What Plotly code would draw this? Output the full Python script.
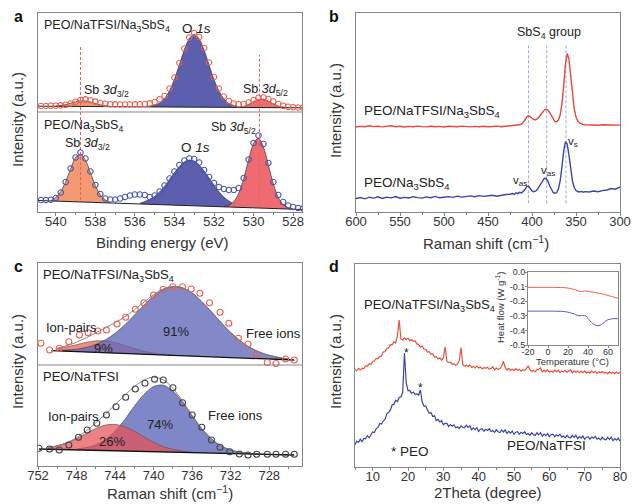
import numpy as np
import plotly.graph_objects as go

W, H = 633, 504
FONT = "Liberation Sans, Arial, sans-serif"
FRAME = "#858585"


def fx(p):
    return p / W


def fy(p):
    return 1 - p / H


# ---------------- panel a : XPS O1s / Sb3d ----------------
a_E = np.round(np.arange(540.75, 527.49, -0.25), 2)
a_top = [106.0, 106.0, 106.2, 106.3, 106.6, 107.2, 108.5, 110.3, 112.0, 112.6,
         111.8, 110.4, 109.0, 108.2, 107.8, 107.6, 107.5, 107.5, 107.5, 107.6,
         107.7, 108.0, 108.6, 110.0, 112.8, 116.0, 123.5, 134.5, 149.0, 163.5,
         174.5, 179.0, 175.0, 164.0, 149.5, 135.0, 123.5, 115.5, 111.0, 108.5,
         107.8, 108.0, 109.5, 112.0, 114.2, 114.5, 113.0, 110.5, 108.0, 106.2,
         105.2, 104.8, 104.5, 104.3]
a_bot = [12.0, 12.0, 12.3, 14.0, 19.5, 30.0, 43.5, 54.5, 59.5, 53.5,
         40.5, 27.0, 18.0, 13.5, 12.5, 12.5, 13.5, 15.0, 16.5, 17.5,
         17.5, 17.0, 15.0, 16.5, 20.5, 26.5, 33.5, 40.5, 47.0, 51.5,
         53.5, 53.0, 49.5, 42.0, 35.0, 29.0, 25.0, 23.0, 22.0, 22.0,
         24.0, 34.0, 52.5, 69.0, 76.5, 68.0, 49.0, 30.0, 17.0, 10.0,
         6.5, 5.0, 4.0, 3.5]
a_base_E = [540.9, 527.55]
a_top_base = [105.8, 104.2]
a_bot_base = [11.5, 2.5]

# fitted components (x grid, y values, baseline at the two ends)
a_t_sb32_E = np.round(np.arange(540.0, 537.24, -0.25), 2)
a_t_sb32 = [106.0, 106.5, 107.4, 108.8, 110.3, 111.2, 111.1, 110.0, 108.5, 107.2, 106.4, 105.6]
a_t_sb32_b = [105.69, 105.36]
a_t_o1s_E = np.round(np.arange(535.25, 530.74, -0.25), 2)
a_t_o1s = [105.5, 106.7, 109.0, 113.5, 121.3, 132.8, 147.3, 162.2, 173.4, 177.6,
           173.1, 161.9, 147.0, 132.5, 121.0, 113.2, 108.7, 106.4, 104.9]
a_t_o1s_b = [105.12, 104.58]
a_t_sb52_E = np.round(np.arange(530.75, 528.24, -0.25), 2)
a_t_sb52 = [104.7, 105.7, 107.6, 110.3, 112.6, 112.9, 110.9, 108.1, 106.0, 105.0, 104.4]
a_t_sb52_b = [104.58, 104.28]

a_b_sb32_E = np.round(np.arange(540.25, 537.24, -0.25), 2)
a_b_sb32 = [11.3, 14.6, 20.3, 30.3, 43.3, 54.4, 58.0, 51.8, 39.4, 26.4, 17.2, 12.1, 9.3]
a_b_sb32_b = [11.06, 9.04]
a_b_o1s_E = np.round(np.arange(535.75, 530.49, -0.25), 2)
a_b_o1s = [8.6, 10.6, 12.6, 15.7, 20.1, 25.8, 32.5, 39.4, 45.6, 50.1, 52.0,
           50.9, 47.0, 41.0, 34.0, 26.8, 20.3, 15.0, 11.1, 8.3, 6.5, 4.9]
a_b_o1s_b = [8.03, 4.49]
a_b_sb52_E = np.round(np.arange(531.5, 527.99, -0.25), 2)
a_b_sb52 = [5.3, 6.7, 10.3, 18.6, 33.3, 52.3, 68.6, 73.9, 65.0, 46.9, 28.1, 14.6, 7.3, 4.3, 2.9]
a_b_sb52_b = [5.16, 2.80]

a_dash_E = [538.75, 529.7]
a_dash_lo = [12, 5.3]
a_dash_hi = [165.3, 157]

# ---------------- panel b : Raman ----------------
b_w = list(range(600, 424, -5)) + list(range(422, 339, -2)) + list(range(335, 299, -5))
b_red = [85.0, 85.6, 85.2, 86.3, 85.4, 85.8, 85.1, 85.9, 86.2, 85.3,
         85.7, 85.0, 85.6, 85.2, 85.9, 85.4, 85.1, 85.8, 85.3, 85.6,
         85.0, 85.7, 85.4, 85.2, 85.9, 85.5, 85.1, 85.6, 85.3, 85.8,
         85.2, 85.5, 85.9, 85.3, 85.7, 85.8,
         86.0, 86.2, 86.5, 86.8, 87.3, 88.2, 89.5, 92.0, 95.0, 96.2,
         95.5, 93.8, 92.5, 92.2, 93.0, 95.0, 97.5, 100.0, 102.0, 102.8,
         102.0, 99.5, 96.0, 92.5, 90.5, 90.2, 92.0, 97.0, 108.0, 126.0,
         148.0, 158.5, 153.0, 136.0, 117.0, 103.0, 95.0, 91.0, 89.0, 88.0,
         87.5, 87.3,
         87.0, 87.4, 86.8, 87.2, 87.0, 86.7, 87.1, 86.9]
b_blue = [13.5, 14.5, 13.2, 14.8, 13.9, 15.2, 13.6, 14.9, 14.1, 15.5,
          13.8, 14.6, 14.0, 15.3, 14.4, 13.9, 15.1, 14.3, 15.6, 14.2,
          14.8, 15.4, 14.6, 15.9, 14.9, 15.3, 16.1, 15.2, 16.4, 15.6,
          15.9, 16.8, 15.8, 16.9, 17.5, 17.8,
          18.5, 17.6, 19.2, 18.4, 19.6, 19.0, 20.5, 22.5, 25.5, 26.0,
          23.5, 21.0, 20.3, 20.8, 22.5, 25.5, 29.0, 32.0, 33.8, 33.5,
          31.0, 26.5, 22.0, 19.5, 18.7, 19.5, 23.0, 31.0, 45.0, 61.0,
          70.0, 68.0, 57.0, 42.0, 31.0, 24.5, 21.5, 20.5, 20.0, 20.6,
          19.8, 20.4,
          20.0, 21.0, 20.3, 21.4, 22.0, 23.5, 22.8, 25.0]
b_dash_w = [404, 383.3, 361.4]

# ---------------- panel c : Raman TFSI band ----------------
c_top_w = [751.7, 750.8, 749.8, 748.8, 747.7, 746.8, 745.8, 744.9, 743.8, 742.9,
           741.9, 741.0, 740.0, 739.0, 738.0, 737.0, 736.1, 735.2, 734.2, 733.1,
           732.2, 731.2, 730.2, 729.3, 728.2, 727.3, 726.3, 725.4]
c_top_pts = [122.7, 116.0, 117.7, 124.3, 131.0, 133.3, 135.0, 136.0, 142.0, 148.7,
             156.7, 163.3, 171.0, 176.7, 179.3, 179.3, 177.0, 172.7, 163.3, 153.7,
             142.7, 127.7, 122.0, 111.7, 103.5, 102.5, 107.0, 106.0]
c_bot_w = [751.9, 750.8, 749.8, 748.8, 747.8, 746.9, 745.9, 744.9, 743.9, 742.9,
           741.9, 740.9, 739.9, 739.0, 738.0, 737.0, 736.0, 735.0, 734.0, 733.1,
           732.1, 731.1, 730.2, 729.3, 728.2, 727.3, 726.3, 725.4]
c_bot_pts = [17.7, 17.0, 16.0, 21.0, 28.7, 36.0, 42.7, 51.0, 59.3, 68.7,
             77.0, 82.7, 86.7, 86.0, 78.3, 63.3, 51.0, 38.7, 26.0, 18.7,
             14.3, 12.0, 11.0, 11.7, 11.7, 11.7, 11.7, 11.7]
c_base_w = [750.6, 725.4]
c_top_base = [115.3, 106.0]
c_bot_base_w = [751.9, 725.4]
c_bot_base = [17.0, 11.0]

c_t_free_w = list(range(750, 725, -1))
c_t_free = [115.6, 116.0, 116.8, 118.5, 121.5, 126.2, 132.7, 141.1, 150.8, 160.8,
            169.9, 176.5, 179.4, 178.2, 173.0, 164.4, 154.2, 143.4, 133.4, 125.1,
            118.5, 113.8, 110.7, 108.5, 106.6]
c_t_free_b = [115.0, 106.2]
c_t_pair_w = list(range(750, 737, -1))
c_t_pair = [117.3, 119.1, 121.3, 123.6, 125.1, 125.1, 123.4, 120.5, 117.5, 114.7, 112.9, 111.6, 110.8]
c_t_pair_b = [115.0, 110.6]
c_t_env_w = list(range(750, 725, -1))
c_t_env = [117.9, 120.4, 123.8, 128.2, 133.1, 138.1, 143.3, 149.2, 156.2, 163.8,
           171.4, 177.1, 179.6, 178.2, 173.0, 164.4, 154.2, 143.4, 133.4, 125.1,
           118.5, 113.8, 110.7, 108.5, 107.2]

c_b_free_w = list(range(748, 728, -1))
c_b_free = [17.1, 18.4, 21.2, 26.4, 34.8, 46.3, 59.7, 71.6, 79.5, 80.8,
            74.9, 63.6, 50.0, 37.2, 27.1, 20.1, 16.0, 13.8, 12.5, 11.9]
c_b_free_b = [16.1, 11.7]
c_b_pair_w = list(range(751, 735, -1))
c_b_pair = [17.8, 20.2, 23.1, 27.3, 32.5, 37.5, 40.9, 41.6, 39.3, 34.8,
            29.0, 23.6, 19.4, 16.6, 14.9, 13.7]
c_b_pair_b = [16.8, 13.4]
c_b_env_w = list(range(751, 725, -1))
c_b_env = [18.5, 20.3, 23.4, 28.3, 35.0, 43.1, 51.9, 61.2, 70.6, 79.4,
           86.0, 88.8, 86.1, 77.6, 64.8, 50.5, 37.4, 27.1, 20.1, 16.0,
           13.8, 12.5, 12.0, 11.6, 11.4, 11.1]

# ---------------- panel d : XRD + DSC inset ----------------
d_t = np.round(np.arange(5.0, 80.01, 0.5), 1)
d_red = [97.3, 96.4, 98.7, 97.0, 98.8, 98.3, 101.1, 100.8, 103.2, 102.5,
         105.5, 106.0, 108.5, 108.3, 110.7, 111.1, 114.9, 115.5, 118.6, 119.0,
         122.3, 122.2, 125.2, 124.0, 131.0, 147.0, 127.8, 126.9, 129.1, 127.6,
         128.7, 126.3, 127.5, 125.8, 126.0, 123.1, 122.7, 120.1, 120.9, 118.0,
         117.6, 115.0, 115.3, 112.6, 113.2, 110.0, 110.3, 108.1, 109.1, 106.8,
         109.5, 120.2, 105.5, 104.3, 105.0, 102.8, 103.2, 101.7, 103.4, 106.2,
         119.5, 102.4, 100.7, 102.0, 100.4, 102.0, 99.5, 100.6, 99.1, 100.9,
         99.1, 100.0, 98.0, 99.5, 98.7, 99.7, 97.9, 98.6, 100.3, 97.0,
         98.9, 97.4, 98.4, 100.7, 105.7, 99.6, 97.0, 98.7, 96.5, 97.7,
         96.4, 98.3, 96.8, 97.8, 95.8, 97.4, 96.6, 98.3, 101.2, 97.2,
         95.8, 96.6, 95.3, 97.2, 97.7, 99.1, 95.3, 96.8, 95.3, 97.1,
         94.8, 96.1, 94.8, 96.8, 95.2, 96.8, 94.3, 95.9, 95.2, 96.4,
         94.6, 96.5, 97.3, 94.1, 96.1, 94.7, 95.7, 94.3, 95.9, 94.4,
         96.2, 93.9, 95.2, 93.9, 95.9, 94.4, 95.4, 93.5, 95.1, 94.4,
         95.5, 93.8, 94.6, 93.3, 95.2, 93.8, 94.8, 93.4, 94.9, 93.5,
         94.5]
d_blue = [22.3, 25.8, 24.6, 27.8, 25.4, 28.6, 28.1, 31.3, 29.2, 32.9,
          35.1, 34.4, 38.4, 39.5, 43.6, 43.0, 46.2, 47.5, 53.2, 54.4,
          56.8, 62.0, 62.6, 66.8, 65.4, 69.6, 70.1, 74.5, 114.0, 84.0,
          76.4, 76.6, 73.6, 74.9, 72.7, 73.1, 72.0, 77.0, 65.2, 61.0,
          61.2, 56.9, 53.8, 54.5, 50.6, 51.3, 46.4, 47.6, 45.1, 46.3,
          42.2, 43.7, 43.6, 40.6, 42.4, 40.7, 42.1, 39.2, 40.2, 38.5,
          41.2, 39.6, 39.3, 41.8, 39.6, 41.3, 37.4, 39.2, 37.4, 39.2,
          35.7, 37.8, 38.3, 35.7, 37.8, 36.5, 38.2, 35.5, 36.5, 34.7,
          37.2, 35.3, 34.5, 37.1, 35.0, 37.1, 33.5, 35.6, 33.9, 36.0,
          32.7, 34.8, 35.3, 32.7, 34.8, 33.5, 35.2, 32.5, 33.5, 31.7,
          34.2, 32.3, 31.6, 34.2, 32.2, 34.3, 30.8, 32.9, 31.3, 33.4,
          30.2, 32.3, 32.8, 30.2, 32.3, 31.0, 32.7, 29.9, 31.0, 29.2,
          31.7, 29.8, 29.1, 31.7, 29.7, 31.8, 28.3, 30.4, 28.8, 30.9,
          27.7, 29.8, 30.4, 27.8, 30.0, 28.7, 30.5, 27.8, 28.9, 27.1,
          29.7, 27.8, 27.1, 29.7, 27.7, 29.8, 26.3, 28.4, 26.8, 28.9,
          25.7]

dsc_T = [-20, -10, 0, 10, 15, 20, 25, 30, 32, 35, 38, 40, 42, 45, 48, 50, 52, 55, 58, 60, 65, 70]
dsc_red = [-0.105, -0.105, -0.105, -0.106, -0.107, -0.110, -0.118, -0.128, -0.135, -0.132, -0.130,
           -0.132, -0.135, -0.138, -0.142, -0.145, -0.147, -0.151, -0.157, -0.161, -0.170, -0.180]
dsc_blue = [-0.268, -0.268, -0.268, -0.269, -0.270, -0.275, -0.285, -0.298, -0.300, -0.297, -0.302,
            -0.318, -0.335, -0.355, -0.365, -0.368, -0.365, -0.352, -0.335, -0.327, -0.320, -0.320]

# ---------------- figure ----------------
fig = go.Figure()


def add(tr):
    fig.add_trace(tr)


def peak(xs, ys, base, fill, xa, ya, lc="#333333"):
    add(go.Scatter(x=[xs[0], xs[-1]], y=base, mode="lines", line=dict(width=0, color="rgba(0,0,0,0)"),
                   xaxis=xa, yaxis=ya, hoverinfo="skip", showlegend=False))
    add(go.Scatter(x=list(xs), y=ys, mode="lines", fill="tonexty", fillcolor=fill,
                   line=dict(color=lc, width=0.7, shape="spline", smoothing=0.8),
                   xaxis=xa, yaxis=ya, hoverinfo="skip", showlegend=False))


def line(xs, ys, color, width, xa, ya, dash=None, shape="linear"):
    add(go.Scatter(x=list(xs), y=list(ys), mode="lines",
                   line=dict(color=color, width=width, dash=dash, shape=shape),
                   xaxis=xa, yaxis=ya, hoverinfo="skip", showlegend=False))


def circles(xs, ys, color, size, xa, ya):
    add(go.Scatter(x=list(xs), y=list(ys), mode="markers",
                   marker=dict(symbol="circle-open", size=size, color=color, line=dict(width=1.1, color=color)),
                   xaxis=xa, yaxis=ya, hoverinfo="skip", showlegend=False))


# panel a
O1S = "#5b5fae"
SB32 = "#f39a72"
SB52 = "#ef6b72"
peak(a_t_sb32_E, a_t_sb32, a_t_sb32_b, SB32, "x", "y")
peak(a_t_o1s_E, a_t_o1s, a_t_o1s_b, O1S, "x", "y")
peak(a_t_sb52_E, a_t_sb52, a_t_sb52_b, SB52, "x", "y")
peak(a_b_sb32_E, a_b_sb32, a_b_sb32_b, SB32, "x", "y")
peak(a_b_o1s_E, a_b_o1s, a_b_o1s_b, O1S, "x", "y")
peak(a_b_sb52_E, a_b_sb52, a_b_sb52_b, SB52, "x", "y")
line(a_base_E, a_top_base, "#222222", 1.0, "x", "y")
line(a_base_E, a_bot_base, "#222222", 1.0, "x", "y")
for e, lo, hi in zip(a_dash_E, a_dash_lo, a_dash_hi):
    line([e, e], [lo, hi], "#f05a5a", 1.0, "x", "y", dash="3px,2px")
circles(a_E, a_top, "#e8604f", 5.5, "x", "y")
circles(a_E, a_bot, "#4654ad", 5.5, "x", "y")

# panel b
for w in b_dash_w:
    line([w, w], [8.7, 168.7], "#8492cc", 0.8, "x2", "y2", dash="3px,2px")
line(b_w, b_red, "#e8473d", 1.4, "x2", "y2")
line(b_w, b_blue, "#3a45a5", 1.4, "x2", "y2")

# panel c top: ion pairs (salmon) then free ions (translucent blue)
peak(c_t_pair_w, c_t_pair, c_t_pair_b, "rgb(240,140,125)", "x3", "y3", lc="#555555")
peak(c_t_free_w, c_t_free, c_t_free_b, "rgba(96,104,184,0.78)", "x3", "y3", lc="#444444")
line(c_t_env_w, c_t_env, "#777777", 0.9, "x3", "y3", shape="spline")
line(c_base_w, c_top_base, "#111111", 1.3, "x3", "y3")
circles(c_top_w, c_top_pts, "#e8604f", 6, "x3", "y3")
# panel c bottom: free ions then translucent ion pairs
peak(c_b_free_w, c_b_free, c_b_free_b, "rgb(128,135,200)", "x3", "y3", lc="#444444")
peak(c_b_pair_w, c_b_pair, c_b_pair_b, "rgba(232,80,85,0.72)", "x3", "y3", lc="#555555")
line(c_b_env_w, c_b_env, "#777777", 0.9, "x3", "y3", shape="spline")
line(c_bot_base_w, c_bot_base, "#111111", 1.3, "x3", "y3")
circles(c_bot_w, c_bot_pts, "#444444", 6, "x3", "y3")

# panel d
line(d_t, d_red, "#e8503f", 1.2, "x4", "y4")
line(d_t, d_blue, "#3b45a8", 1.2, "x4", "y4")
add(go.Scatter(x=dsc_T, y=dsc_red, mode="lines", line=dict(color="#e8604f", width=1, shape="spline", smoothing=0.8),
               xaxis="x5", yaxis="y5", showlegend=False, hoverinfo="skip"))
add(go.Scatter(x=dsc_T, y=dsc_blue, mode="lines", line=dict(color="#5561b5", width=1, shape="spline", smoothing=0.8),
               xaxis="x5", yaxis="y5", showlegend=False, hoverinfo="skip"))

# ---------------- axes ----------------
tickfont = dict(family=FONT, size=13, color="#333333")
inset_font = dict(family=FONT, size=9, color="#333333")
base_ax = dict(showline=True, linecolor=FRAME, linewidth=1, mirror=True, showgrid=False, zeroline=False,
               automargin=False)


def xax(dom, rng, dtick, tick0, mdt, anchor):
    return dict(base_ax, domain=dom, range=rng, dtick=dtick, tick0=tick0, ticks="outside", ticklen=3,
                tickcolor=FRAME, tickfont=tickfont, anchor=anchor, ticklabelstandoff=-6,
                minor=dict(ticks="outside", ticklen=2, dtick=mdt, tick0=tick0, tickcolor=FRAME))


def yax(dom, rng, anchor):
    return dict(base_ax, domain=dom, range=rng, showticklabels=False, ticks="", anchor=anchor)


fig.update_layout(
    width=W, height=H, autosize=False,
    margin=dict(l=0, r=0, t=0, b=0, pad=0, autoexpand=False),
    paper_bgcolor="white", plot_bgcolor="white", showlegend=False,
    font=dict(family=FONT, color="#333333"),
    xaxis=xax([fx(38), fx(302)], [540.9, 527.55], 2, 528, 1, "y"),
    yaxis=yax([fy(212), fy(13)], [0, 199], "x"),
    xaxis2=xax([fx(356), fx(620)], [600, 300], 50, 300, 25, "y2"),
    yaxis2=yax([fy(212), fy(13)], [0, 199], "x2"),
    xaxis3=xax([fx(38), fx(302)], [752, 724.6], 4, 728, 2, "y3"),
    yaxis3=yax([fy(466), fy(263)], [0, 203], "x3"),
    xaxis4=xax([fx(355), fx(620)], [5, 80], 10, 0, 5, "y4"),
    yaxis4=yax([fy(467), fy(264)], [0, 203], "x4"),
    xaxis5=dict(base_ax, domain=[fx(528), fx(618)], range=[-20, 70], tickvals=[-20, 0, 20, 40, 60],
                ticktext=["-20", "0", "20", "40", "60"], ticks="outside", ticklen=2, tickcolor=FRAME,
                ticklabelstandoff=-4, tickfont=inset_font, anchor="y5"),
    yaxis5=dict(base_ax, domain=[fy(345), fy(272)], range=[-0.5, 0.0],
                tickvals=[-0.5, -0.4, -0.3, -0.2, -0.1, 0.0],
                ticktext=["-0.5", "-0.4", "-0.3", "-0.2", "-0.1", "0.0"], ticks="outside", ticklen=2,
                ticklabelstandoff=-2, tickcolor=FRAME, tickfont=inset_font, anchor="x5"),
)

# divider lines inside panels a and c
fig.add_shape(type="line", xref="x domain", yref="y", x0=0, x1=1, y0=100, y1=100, line=dict(color=FRAME, width=1))
fig.add_shape(type="line", xref="x3 domain", yref="y3", x0=0, x1=1, y0=101, y1=101, line=dict(color=FRAME, width=1))

# ---------------- text ----------------
def note(x, y, text, size=13, anchor="left", angle=0, bold=False, color="#222222"):
    if bold:
        text = "<b>" + text + "</b>"
    fig.add_annotation(x=fx(x), y=fy(y), xref="paper", yref="paper", text=text, showarrow=False,
                       xanchor=anchor, yanchor="middle", textangle=angle,
                       font=dict(family=FONT, size=size, color=color))


NTS = "PEO/NaTFSI/Na<sub>3</sub>SbS<sub>4</sub>"
NS = "PEO/Na<sub>3</sub>SbS<sub>4</sub>"
for (x, y, t) in [(12, 17, "a"), (327, 17, "b"), (12, 266, "c"), (327, 266, "d")]:
    note(x, y, t, size=16, bold=True, color="#111111")

# a
note(42, 26, NTS, 12.5)
note(196, 28, "O <i>1s</i>", 13.5, "center")
note(82, 91, "Sb <i>3d</i><sub>3/2</sub>", 12.5)
note(241, 90, "Sb <i>3d</i><sub>5/2</sub>", 12.5)
note(42, 126, NS, 12.5)
note(63, 144, "Sb <i>3d</i><sub>3/2</sub>", 12.5)
note(195, 147, "O <i>1s</i>", 13.5, "center")
note(209, 128, "Sb <i>3d</i><sub>5/2</sub>", 12.5)
note(17, 120, "Intensity (a.u.)", 15, "center", -90, color="#333333")
note(162, 242, "Binding energy (eV)", 15, "center", color="#333333")

# b
note(549, 33, "SbS<sub>4</sub> group", 12.5, "center")
note(362, 111, NTS, 13.5)
note(362, 183, NS, 13.5)
note(511, 181, "v<sub>as</sub>", 11.5)
note(539, 171, "v<sub>as</sub>", 11.5)
note(566, 142, "v<sub>s</sub>", 11.5)
note(335, 111, "Intensity (a.u.)", 15, "center", -90, color="#333333")
note(486, 242, "Raman shift (cm<sup>−1</sup>)", 15, "center", color="#333333")

# c
note(41, 275, NTS, 13)
note(44, 327, "Ion-pairs", 13)
note(176, 331, "91%", 13, "center")
note(103, 348, "9%", 13, "center")
note(244, 333, "Free ions", 13)
note(41, 376, "PEO/NaTFSI", 13)
note(46, 416, "Ion-pairs", 13)
note(160, 424, "74%", 13, "center")
note(112, 441, "26%", 13, "center")
note(206, 415, "Free ions", 13)
note(17, 362, "Intensity (a.u.)", 15, "center", -90, color="#333333")
note(170, 492, "Raman shift (cm<sup>−1</sup>)", 15, "center", color="#333333")

# d
note(362, 305, NTS, 13)
note(406, 353, "*", 12, "center")
note(420, 388, "*", 12, "center")
note(505, 445, "PEO/NaTFSI", 13.5)
note(389, 451, "* PEO", 13.5)
note(500, 308, "Heat flow (W g<sup>-1</sup>)", 9.5, "center", -90, color="#333333")
note(572, 361, "Temperature (°C)", 9.5, "center", color="#333333")
note(335, 362, "Intensity (a.u.)", 15, "center", -90, color="#333333")
note(488, 492, "2Theta (degree)", 15, "center", color="#333333")

fig.write_html("out.html", config={"displayModeBar": False},
               post_script="document.body.style.margin='0px';document.body.style.overflow='hidden';")
